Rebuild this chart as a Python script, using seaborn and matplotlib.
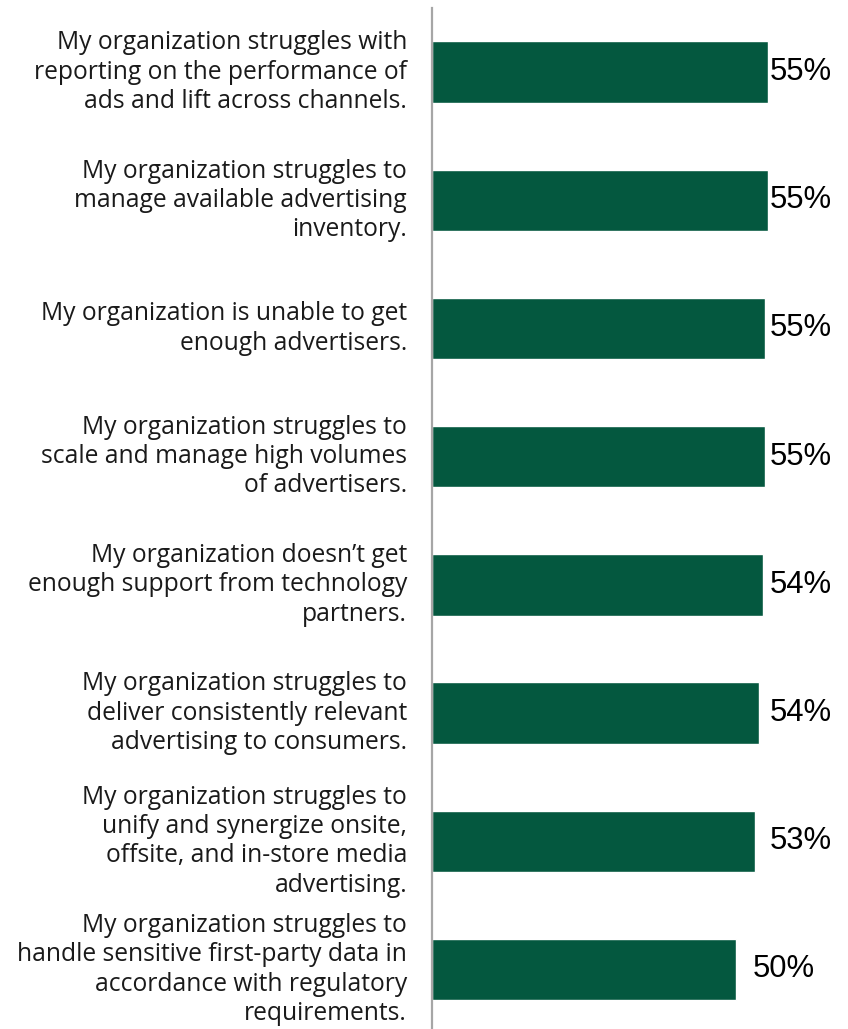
import matplotlib
matplotlib.use("Agg")
import matplotlib.pyplot as plt
import seaborn as sns
import pandas as pd

# Survey statements (wrapped as they appear beside each bar)
statements = [
    "My organization struggles with\nreporting on the performance of\nads and lift across channels.",
    "My organization struggles to\nmanage available advertising\ninventory.",
    "My organization is unable to get\nenough advertisers.",
    "My organization struggles to\nscale and manage high volumes\nof advertisers.",
    "My organization doesn\u2019t get\nenough support from technology\npartners.",
    "My organization struggles to\ndeliver consistently relevant\nadvertising to consumers.",
    "My organization struggles to\nunify and synergize onsite,\noffsite, and in-store media\nadvertising.",
    "My organization struggles to\nhandle sensitive first-party data in\naccordance with regulatory\nrequirements.",
]
# Share of respondents agreeing (%)
shares = [55.2, 55.2, 54.8, 54.8, 54.4, 53.8, 53.2, 50.0]

df = pd.DataFrame({"statement": statements, "share": shares})

sns.set_theme(style="white")
plt.rcParams["font.family"] = ["Open Sans", "DejaVu Sans"]

W, H = 848, 1029
fig = plt.figure(figsize=(W / 100, H / 100), dpi=100)
ax_left = 432 / W
ax = fig.add_axes([ax_left, 0.0, 1 - ax_left, 1 - 8 / H])

sns.barplot(data=df, x="share", y="statement", orient="h", color="#04583F",
            width=0.48, saturation=1, ax=ax)

pitch_px = 128.2
x_scale = 6.08  # px per percentage point
ax.set_xlim(0, (W - 432) / x_scale)
ax.set_ylim(-0.5 + (H - 8) / pitch_px, -0.5)

# Value labels to the right of each bar
label_cap = 55.6
for i, v in enumerate(shares):
    ax.text(min(v + 2.8, label_cap), i, f"{v:.0f}%", va="center", ha="left",
            fontsize=22.3, family=["Liberation Sans", "DejaVu Sans"], color="#000000")

for s in ["top", "right", "bottom"]:
    ax.spines[s].set_visible(False)
ax.spines["left"].set_color("#A6A6A6")
ax.spines["left"].set_linewidth(1.6)

ax.set_xlabel("")
ax.set_ylabel("")
ax.set_xticks([])
ax.tick_params(axis="y", length=0, pad=18)
for lbl in ax.get_yticklabels():
    lbl.set_fontsize(17.7)
    lbl.set_color("#1a1a1a")
    lbl.set_linespacing(1.22)
    lbl.set_verticalalignment("center")

fig.savefig("out.png", dpi=100)
